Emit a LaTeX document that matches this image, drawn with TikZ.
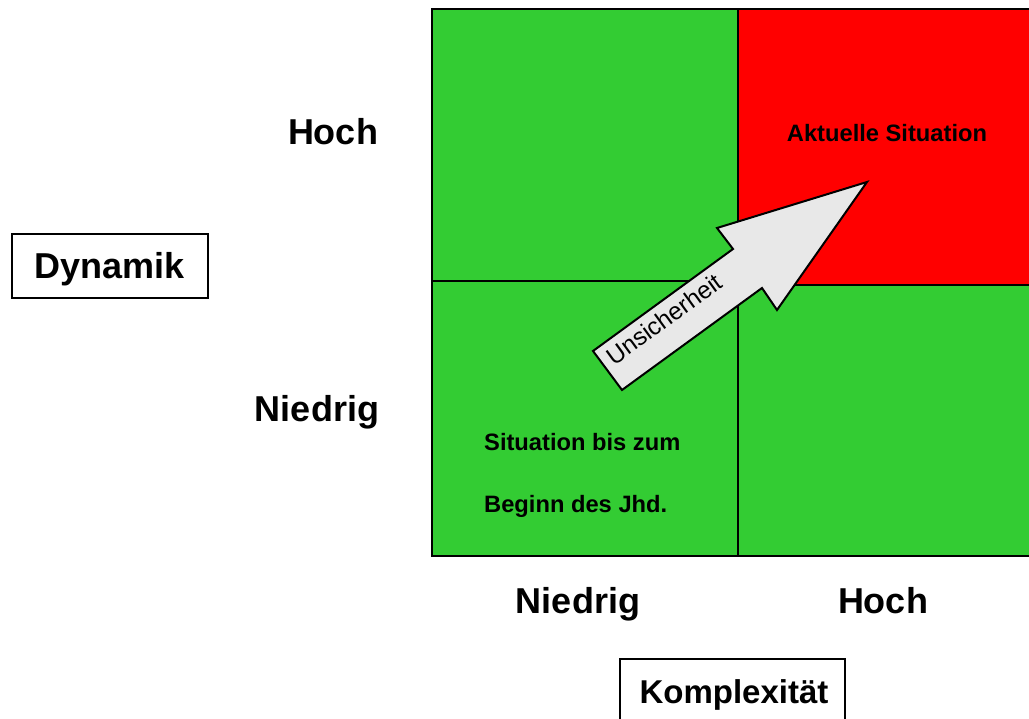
\documentclass[tikz,border=0pt]{standalone}
\usepackage{fontspec}
\setmainfont{Liberation Sans}
\definecolor{qgreen}{RGB}{51,204,51}
\definecolor{qred}{RGB}{255,0,0}
\definecolor{arrowgray}{RGB}{232,232,232}
\begin{document}
\begin{tikzpicture}[x=1pt,y=-1pt,
  gridline/.style={line width=2pt, draw=black},
  biglabel/.style={font=\fontsize{36}{42}\selectfont\bfseries, inner sep=0pt, anchor=base},
  celltext/.style={font=\fontsize{23.7}{28}\selectfont\bfseries, inner sep=0pt, anchor=base},
  axisbox/.style={draw, line width=1.5pt, inner sep=0pt},
  bigarrow/.style={draw, line width=2pt, fill=arrowgray, line join=miter},
  arrowtext/.style={font=\fontsize{24.5}{28}\selectfont, inner sep=0pt, rotate=36}
]
\clip (0,0) rectangle (1029,719);
\fill[white] (0,0) rectangle (1029,719);
% quadrants
\fill[qgreen] (432,9) rectangle (1040,556);
\fill[qred] (738,9) rectangle (1040,285);
\draw[gridline] (432,9) rectangle (1040,556);
\draw[gridline] (738,9) -- (738,556);
\draw[gridline] (432,281) -- (738,281);
\draw[gridline] (738,285) -- (1040,285);
% arrow
\draw[bigarrow] (593,351) -- (733,249) -- (717,228) -- (867,182) -- (777,310) -- (762,288) -- (622,390) -- cycle;
\node[arrowtext] (uns) at (664,319) {Unsicherheit};
% labels
\node[biglabel] (hochY) at (333,145) {Hoch};
\node[biglabel] (niedrigY) at (317,422) {Niedrig};
\node[axisbox, minimum width=196pt, minimum height=64pt] (dyn) at (110,266) {};
\node[biglabel] (dyntext) at (110,279) {Dynamik};
\node[biglabel] (niedrigX) at (578,613) {Niedrig};
\node[biglabel] (hochX) at (883,613) {Hoch};
\node[axisbox, minimum width=225pt, minimum height=68pt] (komp) at (732.5,693) {};
\node[biglabel, font=\fontsize{33}{38}\selectfont\bfseries] (komptext) at (734,703) {Komplexität};
\node[celltext] (akt) at (887,142) {Aktuelle Situation};
\node[celltext, anchor=base west] (sit1) at (484,450) {Situation bis zum};
\node[celltext, anchor=base west] (sit2) at (484,512) {Beginn des Jhd.};
\end{tikzpicture}
\end{document}
